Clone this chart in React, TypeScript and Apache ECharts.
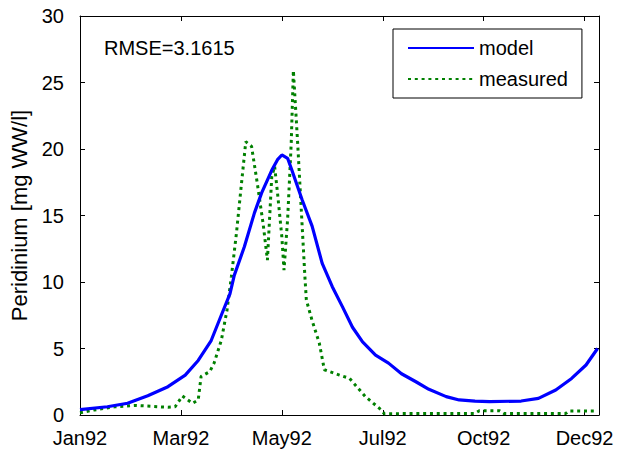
import React, { useEffect, useRef } from "react";
import * as echarts from "echarts";

// x values are days since 1 Jan 1992
const xTickDays = [0, 70, 140, 210, 280, 350];
const xTickLabels = ["Jan92", "Mar92", "May92", "Jul92", "Oct92", "Dec92"];
const yTicks = [0, 5, 10, 15, 20, 25, 30];

const modelDays = [0, 19, 33, 47, 61, 73, 82, 91, 98, 104, 107, 114, 121, 126, 133, 137, 140, 144, 147, 154, 161, 168, 175, 182, 189, 196, 205, 214, 223, 233, 242, 254, 263, 274, 284, 306, 318, 330, 341, 351, 359];
const modelValues = [0.4, 0.62, 0.88, 1.45, 2.13, 3.0, 4.1, 5.6, 7.5, 9.1, 10.5, 12.65, 15.2, 16.7, 18.4, 19.2, 19.55, 19.3, 18.4, 16.2, 14.2, 11.4, 9.65, 8.15, 6.6, 5.5, 4.5, 3.9, 3.1, 2.5, 1.93, 1.38, 1.13, 1.05, 1.0, 1.05, 1.25, 1.88, 2.75, 3.76, 5.0];

const measuredDays = [0, 10, 24, 39, 61, 66, 71, 78, 82, 84, 90, 93, 98, 102, 105, 108.5, 112, 115, 119, 123, 127, 130, 133, 135, 137, 140, 141.5, 144, 146.5, 148, 151, 153.5, 156, 157, 161, 166, 169.5, 180, 187, 198, 209, 211, 274, 277, 291, 294, 337, 339, 359];
const measuredValues = [0.17, 0.38, 0.62, 0.72, 0.58, 0.62, 1.43, 0.88, 1.13, 2.9, 3.26, 3.9, 5.6, 7.9, 10.4, 13.65, 17.4, 20.55, 20.2, 17.4, 14.4, 11.65, 17.9, 18.7, 16.7, 13.4, 10.9, 14.7, 20.4, 25.9, 20.4, 15.4, 10.4, 8.65, 7.1, 5.4, 3.4, 3.0, 2.75, 1.38, 0.38, 0.1, 0.12, 0.32, 0.32, 0.12, 0.12, 0.3, 0.3];

const rmseText = "RMSE=3.1615";
const yLabel = "Peridinium [mg WW/l]";

const FONT = "'Liberation Sans', Arial, sans-serif";

export default function App() {
  const ref = useRef<HTMLDivElement>(null);
  useEffect(() => {
    if (!ref.current) return;
    const chart = echarts.init(ref.current, undefined, { renderer: "svg" });
    const xFmt = (v: number) => {
      const i = xTickDays.indexOf(v);
      return i >= 0 ? xTickLabels[i] : "";
    };
    const baseX = {
      type: "value" as const,
      min: 0,
      max: 360,
      interval: 70,
      axisLine: { show: true, onZero: false, lineStyle: { color: "#000", width: 1 } },
      axisTick: { show: true, inside: true, length: 5, lineStyle: { color: "#000" } },
      splitLine: { show: false },
    };
    const baseY = {
      type: "value" as const,
      min: yTicks[0],
      max: yTicks[yTicks.length - 1],
      interval: 5,
      axisLine: { show: true, onZero: false, lineStyle: { color: "#000", width: 1 } },
      axisTick: { show: true, inside: true, length: 5, lineStyle: { color: "#000" } },
      splitLine: { show: false },
    };
    chart.setOption({
      animation: false,
      backgroundColor: "#fff",
      textStyle: { fontFamily: FONT },
      grid: { left: 80, right: 18, top: 16, bottom: 39 },
      xAxis: [
        {
          ...baseX,
          position: "bottom",
          axisLabel: { show: true, formatter: xFmt, fontSize: 20, color: "#000", margin: 13, fontFamily: FONT, showMaxLabel: false },
        },
        { ...baseX, position: "top", axisLabel: { show: false } },
      ],
      yAxis: [
        {
          ...baseY,
          position: "left",
          name: yLabel,
          nameLocation: "middle",
          nameGap: 47,
          nameTextStyle: { fontSize: 22, color: "#000", fontFamily: FONT },
          axisLabel: { show: true, fontSize: 20, color: "#000", margin: 16, fontFamily: FONT },
        },
        { ...baseY, position: "right", axisLabel: { show: false } },
      ],
      legend: {
        show: true,
        orient: "vertical",
        left: 393,
        top: 29,
        width: 194,
        padding: [9, 14, 9, 14],
        itemGap: 11,
        itemWidth: 66,
        itemHeight: 14,
        backgroundColor: "#fff",
        borderColor: "#000",
        borderWidth: 1,
        borderRadius: 0,
        itemStyle: { opacity: 0 },
        textStyle: { fontSize: 20, color: "#000", fontFamily: FONT },
        data: ["model", "measured"],
      },
      graphic: [
        {
          type: "text",
          left: 104,
          top: 38,
          style: { text: rmseText, fontSize: 20, fill: "#000", fontFamily: FONT },
        },
      ],
      series: [
        {
          name: "model",
          type: "line",
          xAxisIndex: 0,
          yAxisIndex: 0,
          showSymbol: false,
          symbol: "none",
          lineStyle: { color: "#0000ff", width: 3.2 },
          itemStyle: { color: "#0000ff" },
          data: modelDays.map((d, i) => [d, modelValues[i]]),
          z: 3,
        },
        {
          name: "measured",
          type: "line",
          xAxisIndex: 0,
          yAxisIndex: 0,
          showSymbol: false,
          symbol: "none",
          lineStyle: { color: "#008000", width: 3, type: [3, 3.8], cap: "butt" },
          itemStyle: { color: "#008000" },
          data: measuredDays.map((d, i) => [d, measuredValues[i]]),
          z: 2,
        },
      ],
    });
    return () => chart.dispose();
  }, []);
  return (
    <div
      ref={ref}
      style={{ position: "fixed", left: 0, top: 0, width: 617, height: 454, background: "#fff" }}
    />
  );
}
